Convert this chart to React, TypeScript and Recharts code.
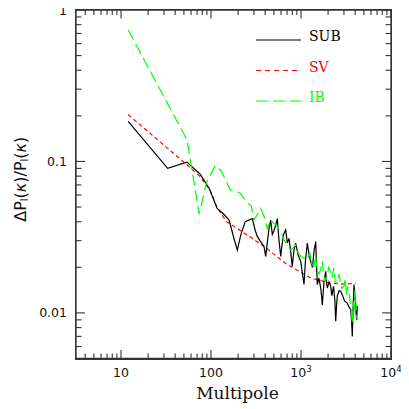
import { LineChart, Line, XAxis, YAxis, Legend } from "recharts";

// multipole bins and dP/P for each method
const subL = [12, 33, 54, 75, 96, 117, 138, 159, 180, 196, 215, 240, 262, 288, 310, 327, 350, 388, 405, 425, 441, 460, 480, 501, 525, 545, 570, 595, 615, 640, 676, 705, 736, 770, 800, 835, 873, 930, 993, 1040, 1080, 1120, 1175, 1230, 1281, 1340, 1400, 1457, 1490, 1518, 1580, 1655, 1690, 1725, 1800, 1880, 1920, 1960, 2050, 2138, 2200, 2300, 2380, 2430, 2480, 2530, 2650, 2760, 2900, 3050, 3270, 3400, 3565, 3640, 3715, 3800, 3880, 3960, 4060, 4150, 4225];
const subVals = [0.184, 0.090, 0.099, 0.083, 0.066, 0.049, 0.045, 0.041, 0.031, 0.026, 0.033, 0.040, 0.041, 0.042, 0.035, 0.032, 0.030, 0.0275, 0.0236, 0.030, 0.036, 0.041, 0.033, 0.035, 0.038, 0.042, 0.030, 0.0236, 0.028, 0.033, 0.0353, 0.029, 0.031, 0.025, 0.0203, 0.026, 0.0289, 0.024, 0.0219, 0.018, 0.0154, 0.022, 0.0289, 0.024, 0.0219, 0.020, 0.026, 0.0296, 0.020, 0.0154, 0.017, 0.0146, 0.013, 0.0113, 0.016, 0.0188, 0.016, 0.0146, 0.016, 0.015, 0.013, 0.015, 0.012, 0.0088, 0.011, 0.0129, 0.014, 0.0139, 0.013, 0.012, 0.0116, 0.011, 0.0105, 0.009, 0.0070, 0.011, 0.0154, 0.013, 0.011, 0.009, 0.0111];

const svL = [12, 33, 54, 75, 97, 116, 149, 229, 381, 692, 1281, 2138, 3000, 4055];
const svVals = [0.204, 0.122, 0.095, 0.080, 0.065, 0.050, 0.040, 0.034, 0.0277, 0.021, 0.017, 0.0157, 0.0155, 0.0157];

const ibL = [12, 33, 54, 74, 89, 111, 131, 163, 210, 253, 280, 300, 330, 357, 390, 423, 460, 500, 545, 600, 647, 700, 769, 820, 873, 930, 993, 1080, 1175, 1250, 1320, 1393, 1450, 1500, 1580, 1655, 1720, 1780, 1850, 1960, 2030, 2100, 2200, 2326, 2400, 2530, 2620, 2700, 2850, 3006, 3100, 3200, 3300, 3400, 3500, 3565, 3640, 3700, 3780, 3880, 3960, 4060, 4150, 4225];
const ibVals = [0.74, 0.24, 0.14, 0.045, 0.072, 0.094, 0.086, 0.065, 0.062, 0.053, 0.051, 0.041, 0.045, 0.049, 0.043, 0.036, 0.041, 0.039, 0.0372, 0.034, 0.0304, 0.028, 0.0261, 0.027, 0.0281, 0.025, 0.0236, 0.023, 0.0224, 0.025, 0.021, 0.0203, 0.024, 0.020, 0.018, 0.0193, 0.022, 0.018, 0.016, 0.0179, 0.020, 0.019, 0.017, 0.0198, 0.016, 0.0157, 0.018, 0.017, 0.0145, 0.015, 0.017, 0.013, 0.015, 0.014, 0.012, 0.0116, 0.010, 0.0085, 0.012, 0.010, 0.014, 0.012, 0.0095, 0.009];

const xMajor = [10, 100, 1000, 10000];
const xMinor = [4, 5, 6, 7, 8, 9, 20, 30, 40, 50, 60, 70, 80, 90, 200, 300, 400, 500, 600, 700, 800, 900, 2000, 3000, 4000, 5000, 6000, 7000, 8000, 9000];
const yMajor = [0.01, 0.1, 1];
const yMinor = [0.006, 0.007, 0.008, 0.009, 0.02, 0.03, 0.04, 0.05, 0.06, 0.07, 0.08, 0.09, 0.2, 0.3, 0.4, 0.5, 0.6, 0.7, 0.8, 0.9];

const X_DOMAIN = [Math.sqrt(10), 10000];
const Y_DOMAIN = [0.005, 1];
const xTicks = [...xMinor, ...xMajor].sort((a, b) => a - b);
const yTicks = [...yMinor, ...yMajor].sort((a, b) => a - b);

const toPoints = (ls: number[], vs: number[]) => ls.map((l, i) => ({ l, v: vs[i] }));
const subData = toPoints(subL, subVals);
const svData = toPoints(svL, svVals);
const ibData = toPoints(ibL, ibVals);

const W = 409;
const H = 409;
const MARGIN = { top: 10, right: 18, bottom: 10.5, left: 16 };
const Y_AXIS_W = 60;
const X_AXIS_H = 40;
const PLOT_X = MARGIN.left + Y_AXIS_W;
const PLOT_Y = MARGIN.top;
const PLOT_W = W - MARGIN.left - MARGIN.right - Y_AXIS_W;
const PLOT_H = H - MARGIN.top - MARGIN.bottom - X_AXIS_H;

const AXIS = "#333";
const SANS = "DejaVu Sans";
const SERIF = "DejaVu Serif";

const xLabel = (v: number) => {
  if (v === 1000) return <>10<tspan dy={-5} fontSize={8.5}>3</tspan></>;
  if (v === 10000) return <>10<tspan dy={-5} fontSize={8.5}>4</tspan></>;
  return String(v);
};

// bottom ticks, mirrored on top; the 10 tick also carries the horizontal frame edges
const XTick = (props: any) => {
  const { x, y, payload } = props;
  const major = xMajor.includes(payload.value);
  const len = major ? 8.5 : 5;
  const bottom = Number(y);
  const top = bottom - PLOT_H;
  return (
    <g>
      {payload.value === 10 && (
        <path
          d={`M${PLOT_X},${bottom}H${PLOT_X + PLOT_W}M${PLOT_X},${top}H${PLOT_X + PLOT_W}`}
          stroke={AXIS}
          strokeWidth={1.3}
          fill="none"
        />
      )}
      <line x1={x} x2={x} y1={bottom} y2={bottom - len} stroke={AXIS} strokeWidth={1.1} />
      <line x1={x} x2={x} y1={top} y2={top + len} stroke={AXIS} strokeWidth={1.1} />
      {major && (
        <text x={x} y={bottom + 18} textAnchor="middle" fontFamily={SANS} fontSize={12.5} fill="#111">
          {xLabel(payload.value)}
        </text>
      )}
    </g>
  );
};

// left ticks, mirrored on the right; the 0.1 tick also carries the vertical frame edges
const YTick = (props: any) => {
  const { x, y, payload } = props;
  const major = yMajor.includes(payload.value);
  const len = major ? 9 : 5.5;
  const left = Number(x);
  const right = left + PLOT_W;
  return (
    <g>
      {payload.value === 0.1 && (
        <path
          d={`M${left},${PLOT_Y}V${PLOT_Y + PLOT_H}M${right},${PLOT_Y}V${PLOT_Y + PLOT_H}`}
          stroke={AXIS}
          strokeWidth={1.3}
          fill="none"
        />
      )}
      <line x1={left} x2={left + len} y1={y} y2={y} stroke={AXIS} strokeWidth={1.1} />
      <line x1={right} x2={right - len} y1={y} y2={y} stroke={AXIS} strokeWidth={1.1} />
      {major && (
        <text x={left - 9} y={y} dy="0.36em" textAnchor="end" fontFamily={SANS} fontSize={12.5} fill="#111">
          {String(payload.value)}
        </text>
      )}
    </g>
  );
};

const YTitle = (props: any) => {
  const vb = props.viewBox || { x: MARGIN.left, y: MARGIN.top, width: Y_AXIS_W, height: PLOT_H };
  const cx = vb.x + 4;
  const cy = vb.y + vb.height / 2 - 5;
  return (
    <text
      x={cx}
      y={cy}
      transform={`rotate(-90 ${cx} ${cy})`}
      textAnchor="middle"
      dominantBaseline="central"
      fontFamily={SANS}
      fontSize={16}
      fill="#111"
    >
      ΔP<tspan dy={4} fontSize={10}>l</tspan>
      <tspan dy={-4}>(</tspan>
      <tspan fontStyle="italic">κ</tspan>)/P<tspan dy={4} fontSize={10}>l</tspan>
      <tspan dy={-4}>(</tspan>
      <tspan fontStyle="italic">κ</tspan>)
    </text>
  );
};

const XTitle = (props: any) => {
  const vb = props.viewBox || { x: PLOT_X, y: PLOT_Y + PLOT_H, width: PLOT_W, height: X_AXIS_H };
  return (
    <text x={vb.x + vb.width / 2 + 4} y={vb.y + 40.5} textAnchor="middle" fontFamily={SERIF} fontSize={17} fill="#111">
      Multipole
    </text>
  );
};

const legendItems = [
  { name: "SUB", color: "#000", dash: undefined },
  { name: "SV", color: "#ff0000", dash: "5 4" },
  { name: "IB", color: "#00ff00", dash: "12 5" },
];

const LegendBox = () => (
  <svg width={110} height={90}>
    {legendItems.map((it, i) => {
      const ly = 12 + i * 30.5;
      return (
        <g key={it.name}>
          <line x1={0} x2={45} y1={ly} y2={ly} stroke={it.color} strokeWidth={1.2} strokeDasharray={it.dash} />
          <text x={53} y={ly + 1} fontFamily={SERIF} fontSize={14} fill={it.color}>
            {it.name}
          </text>
        </g>
      );
    })}
  </svg>
);

export default function App() {
  return (
    <div style={{ margin: "-8px 0 0 -8px", width: W, height: H, position: "relative" }}>
      <LineChart width={W} height={H} margin={MARGIN}>
        <XAxis
          type="number"
          dataKey="l"
          scale="log"
          domain={X_DOMAIN}
          allowDataOverflow
          ticks={xTicks}
          interval={0}
          tick={<XTick />}
          tickLine={false}
          axisLine={false}
          tickSize={0}
          tickMargin={0}
          height={X_AXIS_H}
          label={<XTitle />}
        />
        <YAxis
          type="number"
          dataKey="v"
          scale="log"
          domain={Y_DOMAIN}
          allowDataOverflow
          ticks={yTicks}
          interval={0}
          tick={<YTick />}
          tickLine={false}
          axisLine={false}
          tickSize={0}
          tickMargin={0}
          width={Y_AXIS_W}
          label={<YTitle />}
        />
        <Line data={svData} dataKey="v" type="linear" stroke="#ff0000" strokeWidth={1.2} strokeDasharray="4 3" dot={false} isAnimationActive={false} />
        <Line data={subData} dataKey="v" type="linear" stroke="#000" strokeWidth={1.2} dot={false} isAnimationActive={false} />
        <Line data={ibData} dataKey="v" type="linear" stroke="#00ff00" strokeWidth={1.2} strokeDasharray="11 5" dot={false} isAnimationActive={false} />
        <Legend
          layout="horizontal"
          verticalAlign="middle"
          align="center"
          content={<LegendBox />}
          wrapperStyle={{ left: 256, top: 28, width: 110, height: 90 }}
        />
      </LineChart>
      {/* plot frame */}
      <div
        style={{
          position: "absolute",
          left: PLOT_X - 0.65,
          top: PLOT_Y - 0.65,
          width: PLOT_W,
          height: PLOT_H,
          border: `1.3px solid ${AXIS}`,
          boxSizing: "content-box",
          pointerEvents: "none",
        }}
      />
    </div>
  );
}
